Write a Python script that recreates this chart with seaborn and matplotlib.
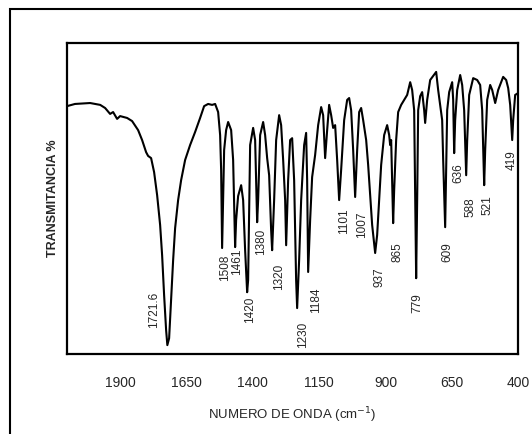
import matplotlib
matplotlib.use("Agg")
import matplotlib.pyplot as plt
from matplotlib.patches import Rectangle
import seaborn as sns
import pandas as pd

# Spectrum: wavenumber (cm-1) and transmittance (%)
wavenumber = [2100, 2070, 2013, 1975, 1956.5, 1937.7, 1926.4, 1911.3, 1900, 1873.6,
              1854.8, 1832.2, 1817.1, 1802, 1794.5, 1783.2, 1771.9, 1760.5, 1749.2, 1741.7,
              1734.2, 1726.6, 1722, 1715.3, 1707.8, 1700.2, 1692.7, 1681.4, 1670.1, 1655,
              1636.2, 1617.3, 1598.5, 1583.4, 1568.3, 1553.3, 1541.9, 1530.6, 1523.1, 1519.3,
              1515.6, 1511.8, 1508, 1500.5, 1492.9, 1481.6, 1474.1, 1466.6, 1462.8, 1455.3,
              1443.9, 1436.4, 1428.9, 1421.3, 1417.6, 1410, 1398.7, 1391.2, 1383.6, 1379.9,
              1372.3, 1361, 1353.5, 1345.9, 1338.4, 1330.9, 1327.1, 1319.6, 1312, 1300.7,
              1293.2, 1285.6, 1278.1, 1274.3, 1266.8, 1259.3, 1251.7, 1244.2, 1236.7, 1232.9,
              1225.4, 1217.8, 1206.5, 1199, 1195.2, 1191.4, 1183.9, 1176.4, 1165.1, 1153.7,
              1142.4, 1134.9, 1127.4, 1119.8, 1112.3, 1104.7, 1097.2, 1089.7, 1082.1, 1074.6,
              1067.1, 1055.7, 1044.4, 1036.9, 1029.4, 1021.8, 1014.3, 1006.7, 999.2, 991.7,
              984.1, 972.8, 965.3, 957.8, 950.2, 938.9, 931.4, 923.8, 916.3, 905,
              893.7, 886.1, 882.4, 878.6, 871.1, 867.3, 859.8, 852.2, 840.9, 829.6,
              818.3, 806.9, 799.5, 791.9, 788.1, 784.4, 780.6, 776.8, 769.3, 761.8,
              754.2, 750.5, 742.9, 731.6, 720.3, 709, 701.5, 693.9, 686.4, 682.6,
              675.1, 671.3, 667.5, 660, 648.7, 644.9, 641.2, 637.4, 629.8, 618.5,
              611, 603.5, 595.9, 592.1, 584.6, 569.5, 554.5, 543.2, 535.6, 528.1,
              524.3, 516.8, 505.5, 497.9, 486.6, 475.3, 456.5, 445.2, 437.6, 430.1,
              422.5, 418.8, 411.3, 400]
transmittance = [79.7, 80.4, 80.7, 80.1, 79.1, 77.2, 77.8, 75.6, 76.5, 75.9,
                 74.9, 72.0, 68.8, 64.9, 63.7, 63.0, 58.5, 51.1, 41.5, 31.8,
                 19.0, 7.7, 2.9, 5.1, 17.4, 30.2, 40.5, 49.5, 55.9, 62.4,
                 67.2, 71.4, 75.9, 79.7, 80.4, 80.1, 80.4, 77.8, 70.4, 59.2,
                 34.1, 49.5, 65.6, 72.0, 74.6, 72.0, 62.4, 34.4, 43.1, 50.8,
                 54.3, 49.5, 33.4, 19.9, 23.8, 67.2, 72.7, 68.8, 42.4, 49.5,
                 70.4, 74.6, 70.4, 63.0, 57.5, 39.9, 33.4, 49.5, 68.8, 76.8,
                 73.6, 62.4, 49.5, 35.0, 55.9, 68.8, 69.4, 55.9, 23.8, 14.8,
                 30.2, 49.5, 67.2, 71.1, 55.9, 26.4, 43.1, 56.9, 64.0, 73.6,
                 79.4, 76.8, 63.0, 72.0, 80.1, 76.8, 72.7, 73.6, 62.4, 49.5,
                 59.2, 75.2, 81.7, 82.3, 78.4, 65.6, 50.5, 65.6, 77.8, 79.1,
                 75.2, 68.8, 60.8, 51.1, 41.5, 32.5, 38.3, 49.5, 60.8, 70.4,
                 73.6, 70.4, 67.2, 68.8, 42.1, 52.7, 68.8, 77.8, 80.1, 81.7,
                 83.3, 87.4, 84.9, 78.4, 49.5, 24.4, 49.5, 78.4, 82.9, 84.2,
                 78.4, 74.3, 81.7, 88.1, 89.4, 90.7, 84.9, 80.1, 75.2, 62.4,
                 40.8, 59.2, 78.4, 84.2, 87.4, 81.7, 64.6, 75.2, 84.9, 89.7,
                 86.5, 78.4, 57.5, 68.8, 83.3, 88.7, 88.1, 86.5, 78.4, 54.3,
                 65.6, 81.7, 86.5, 84.9, 80.7, 84.9, 89.1, 88.1, 85.5, 80.1,
                 68.8, 75.2, 83.3, 83.9]

# Peak annotations (text, anchor wavenumber, anchor transmittance)
peak_labels = ["1721.6", "1508", "1461", "1420", "1380", "1320", "1230", "1184", "1101",
               "1007", "937", "865", "779", "609", "636", "588", "521", "419"]
peak_label_wn = [1772, 1504, 1459, 1410, 1369, 1301, 1210, 1161, 1056,
                 988, 924, 856, 781, 668, 626, 581, 517, 423]
peak_label_t = [14.1, 27.6, 29.6, 14.1, 36.0, 24.8, 6.1, 17.4, 42.8,
                41.5, 24.8, 32.8, 16.4, 32.8, 58.2, 47.3, 47.9, 62.4]

tick_values = [1900, 1650, 1400, 1150, 900, 650, 400]
tick_labels = ["1900", "1650", "1400", "1150", "900", "650", "400"]

sns.set_style("white")
plt.rcParams["font.family"] = ["Liberation Sans", "DejaVu Sans"]

fig = plt.figure(figsize=(5.32, 4.34), dpi=100)
ax = fig.add_axes([0.126, 0.184, 0.848, 0.717])

df = pd.DataFrame({"wn": wavenumber, "T": transmittance})
sns.lineplot(data=df, x="wn", y="T", ax=ax, color="black", linewidth=1.5,
             estimator=None, sort=False)

ax.set_xlim(2100, 400)
ax.set_ylim(0, 100)
ax.set_xticks(tick_values)
ax.set_xticklabels(tick_labels, fontsize=10)
ax.set_yticks([])
ax.tick_params(axis="x", direction="out", length=4, width=1.2, pad=12, color="black")

for s in ax.spines.values():
    s.set_visible(True)
    s.set_color("black")
    s.set_linewidth(1.6)

ax.set_xlabel("NUMERO DE ONDA (cm$^{-1}$)", fontsize=9.5, labelpad=11)
ax.set_ylabel("TRANSMITANCIA %", fontsize=9, fontweight="bold", labelpad=6)

for txt, xw, yt in zip(peak_labels, peak_label_wn, peak_label_t):
    ax.text(xw, yt, txt, rotation=90, ha="center", va="center", fontsize=8.5)

fig.patches.append(Rectangle((0.019, -0.05), 1.2, 0.979 + 0.05, transform=fig.transFigure,
                             fill=False, edgecolor="black", linewidth=1.5))

fig.savefig("out.png", dpi=100)
